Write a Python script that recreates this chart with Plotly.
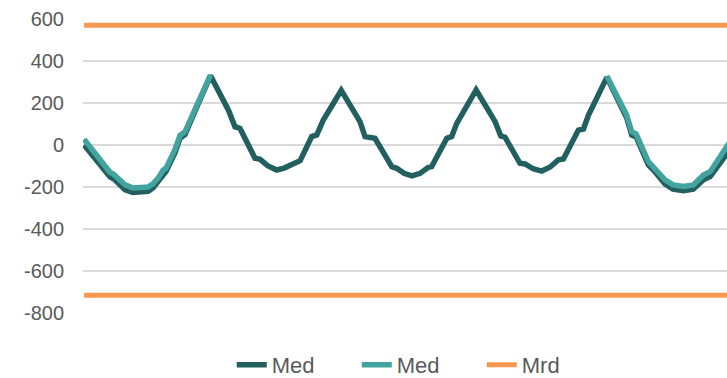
import plotly.graph_objects as go

# Distance along the beam (m) and design moments (kNm)
x_med_a = [0.00, 1.23, 1.42, 1.95, 2.32, 2.66, 3.04, 3.27, 3.51, 3.75, 3.89, 4.32, 4.55, 4.79, 5.03, 5.31, 6.00,
           6.85, 7.16, 7.40, 8.11, 8.35, 8.73, 9.14, 9.49, 9.77, 10.09, 10.25, 10.80, 11.04, 11.35, 12.20,
           13.09, 13.33, 13.80, 14.60, 14.83, 15.18, 15.55, 15.94, 16.33, 16.49, 17.21, 17.44, 17.68, 18.60,
           19.50, 19.77, 19.97, 20.68, 20.92, 21.30, 21.71, 22.11, 22.50, 22.74, 23.45, 23.69, 23.93, 24.80,
           25.74, 25.98, 26.19, 26.77, 27.09, 27.56, 27.94, 28.43, 28.90, 29.38, 29.70, 30.49, 30.80]
med_a = [0, -152, -162, -213, -226, -226, -220, -205, -175, -135, -125, -35, 32, 50, 110, 172, 330,
         166, 87, 79, -63, -68, -100, -119, -110, -95, -79, -75, 40, 48, 119, 260,
         111, 40, 32, -103, -111, -135, -147, -135, -106, -103, 32, 40, 103, 262,
         111, 43, 37, -87, -90, -113, -124, -105, -71, -67, 71, 76, 143, 322,
         130, 48, 38, -95, -128, -185, -210, -218, -210, -165, -150, -35, 0]

# Second load case: end spans only (None splits the two segments)
x_med_b = [0.00, 1.23, 1.42, 1.95, 2.32, 2.66, 3.04, 3.27, 3.51, 3.75, 3.89, 4.32, 4.55, 4.79, 5.03, 5.31, 6.00,
           None,
           24.80, 25.74, 25.98, 26.19, 26.77, 27.09, 27.56, 27.94, 28.43, 28.90, 29.38, 29.70, 30.49, 30.80]
med_b = [28, -130, -140, -190, -205, -205, -200, -185, -158, -120, -110, -20, 45, 63, 120, 180, 333,
         None,
         328, 143, 63, 52, -79, -111, -166, -190, -198, -190, -143, -127, 0, 40]

# Moment resistance (sagging / hogging limits)
x_mrd = [0.0, 30.8, None, 0.0, 30.8]
mrd = [570, 570, None, -715, -715]

y_ticks = [600, 400, 200, 0, -200, -400, -600, -800]

DARK = "#22605f"
LIGHT = "#43a39f"
ORANGE = "#f79850"
FONT = "Liberation Sans"

fig = go.Figure()
fig.add_trace(go.Scatter(x=x_med_a, y=med_a, mode="lines", name="Med",
                         line=dict(color=DARK, width=5.5), connectgaps=False))
fig.add_trace(go.Scatter(x=x_med_b, y=med_b, mode="lines", name="Med",
                         line=dict(color=LIGHT, width=5.5), connectgaps=False))
fig.add_trace(go.Scatter(x=x_mrd, y=mrd, mode="lines", name="Mrd",
                         line=dict(color=ORANGE, width=5), connectgaps=False))

fig.update_layout(
    width=727, height=378,
    margin=dict(l=83, r=0, t=19, b=65, autoexpand=False),
    paper_bgcolor="white", plot_bgcolor="white",
    font=dict(family=FONT, size=20, color="#595959"),
    showlegend=True,
    legend=dict(orientation="h", x=0.231, xanchor="left", y=-0.177, yanchor="middle",
                font=dict(size=22, color="#595959"), entrywidth=80, traceorder="normal"),
    xaxis=dict(range=[-0.05, 30.5], showticklabels=False, showgrid=False,
               zeroline=False, showline=False, ticks=""),
    yaxis=dict(range=[-800, 600], tickvals=y_ticks, ticktext=[str(v) for v in y_ticks],
               showgrid=True, gridcolor="#d9d9d9", gridwidth=1.5, zeroline=False,
               showline=False, ticks="", ticklabelstandoff=18),
)

fig.write_html("out.html")
